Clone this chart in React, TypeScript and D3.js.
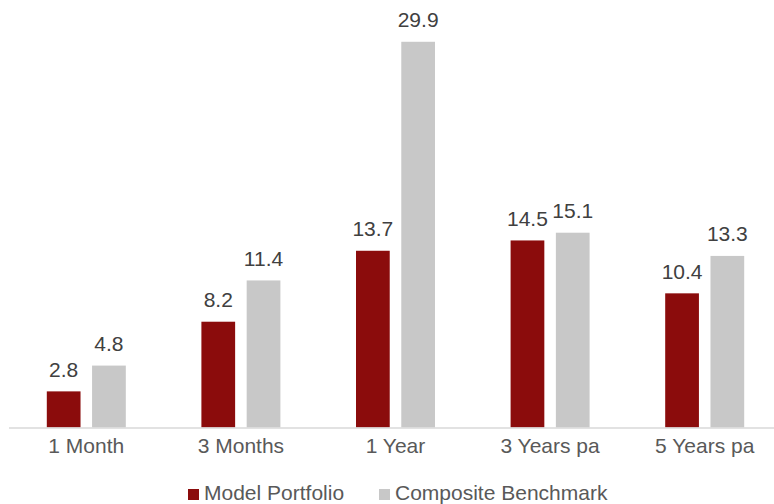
import * as d3 from 'd3'

const categories = ['1 Month', '3 Months', '1 Year', '3 Years pa', '5 Years pa']
const modelPortfolio = [2.8, 8.2, 13.7, 14.5, 10.4]
const compositeBenchmark = [4.8, 11.4, 29.9, 15.1, 13.3]
const seriesNames = ['Model Portfolio', 'Composite Benchmark']
const seriesColors = ['#8B0C0C', '#C8C8C8']

const W = 774
const H = 504

export default function App() {
  const x0 = d3.scaleBand().domain(categories).range([9, 782]).padding(0)
  const x1 = d3.scaleBand().domain(seriesNames).range([0, 79]).paddingInner(0.255)
  const y = d3.scaleLinear().domain([0, 30]).range([427.5, 40.5])
  const series = [modelPortfolio, compositeBenchmark]
  const font = 'Liberation Sans, Arial, sans-serif'
  const legendX = [188, 379]

  return (
    <svg
      width={W}
      height={H}
      style={{ position: 'absolute', left: 0, top: 0, display: 'block', background: '#fff' }}
      fontFamily={font}
    >
      {series.map((vals, s) =>
        vals.map((v, i) => {
          const bx = (x0(categories[i]) ?? 0) + x0.bandwidth() / 2 - 39.5 + (x1(seriesNames[s]) ?? 0)
          return (
            <g key={`${s}-${i}`}>
              <rect x={bx} y={y(v)} width={x1.bandwidth()} height={y(0) - y(v)} fill={seriesColors[s]} />
              <text
                x={bx + x1.bandwidth() / 2}
                y={y(v) - 14.5}
                textAnchor="middle"
                fontSize={21}
                fill="#404040"
              >
                {v.toFixed(1)}
              </text>
            </g>
          )
        })
      )}
      <line x1={9} x2={W} y1={y(0) + 0.5} y2={y(0) + 0.5} stroke="#D9D9D9" strokeWidth={1.5} />
      {categories.map((c) => (
        <text
          key={c}
          x={(x0(c) ?? 0) + x0.bandwidth() / 2}
          y={452.5}
          textAnchor="middle"
          fontSize={21}
          fill="#595959"
        >
          {c}
        </text>
      ))}
      {seriesNames.map((n, i) => (
        <g key={n}>
          <rect x={legendX[i]} y={489} width={11} height={11} fill={seriesColors[i]} />
          <text x={legendX[i] + 16} y={500} fontSize={21} fill="#595959">
            {n}
          </text>
        </g>
      ))}
    </svg>
  )
}
